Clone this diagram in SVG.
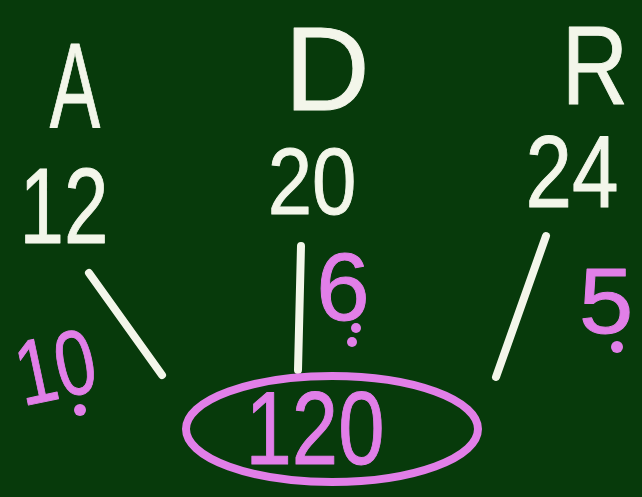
<svg xmlns="http://www.w3.org/2000/svg" width="642" height="497" viewBox="0 0 642 497">
<style>
.w{fill:#f3f6ea;stroke:#f3f6ea;stroke-width:1;stroke-linejoin:round;font-family:"Liberation Sans",Arial,sans-serif;text-anchor:middle}
.p{fill:#e17fe8;stroke:#e17fe8;stroke-width:1;stroke-linejoin:round;font-family:"Liberation Sans",Arial,sans-serif;text-anchor:middle}
.cl{stroke:#f3f6ea;stroke-width:8;stroke-linecap:round;fill:none}
.dot{fill:#e17fe8}
</style>
<rect width="642" height="497" fill="#073a0b"/>
<g id="node-A">
<text class="w" font-size="120" transform="translate(75,127) scale(0.63,1)">A</text>
<text class="w" font-size="108" transform="translate(64,243) scale(0.74,1)">12</text>
</g>
<g id="node-D">
<text class="w" font-size="118" transform="translate(327,110) scale(1,1)">D</text>
<text class="w" font-size="95" transform="translate(312,214) scale(0.84,1)">20</text>
</g>
<g id="node-R">
<text class="w" font-size="112" transform="translate(595,104) scale(0.82,1)">R</text>
<text class="w" font-size="102" transform="translate(572,207) scale(0.82,1)">24</text>
</g>
<g id="connectors">
<path class="cl" d="M89,273 L162,375"/>
<path class="cl" d="M301,246 L298,370"/>
<path class="cl" d="M546,236 L496,377"/>
</g>
<g id="label-10">
<text class="p" font-size="92" transform="translate(62,398) rotate(-12) scale(0.78,1)">10</text>
<circle class="dot" cx="80" cy="410" r="6"/>
</g>
<g id="label-6">
<text class="p" font-size="96" transform="translate(343,320)">6</text>
<circle class="dot" cx="356" cy="328" r="5"/>
<circle class="dot" cx="352" cy="342" r="5"/>
</g>
<g id="label-5">
<text class="p" font-size="92" transform="translate(606,333) scale(1.06,1)">5</text>
<circle class="dot" cx="617" cy="347" r="6"/>
</g>
<g id="node-120">
<ellipse cx="332" cy="429" rx="146" ry="53" fill="none" stroke="#e17fe8" stroke-width="8"/>
<text class="p" font-size="104" transform="translate(315,464) scale(0.8,1)">120</text>
</g>
</svg>
